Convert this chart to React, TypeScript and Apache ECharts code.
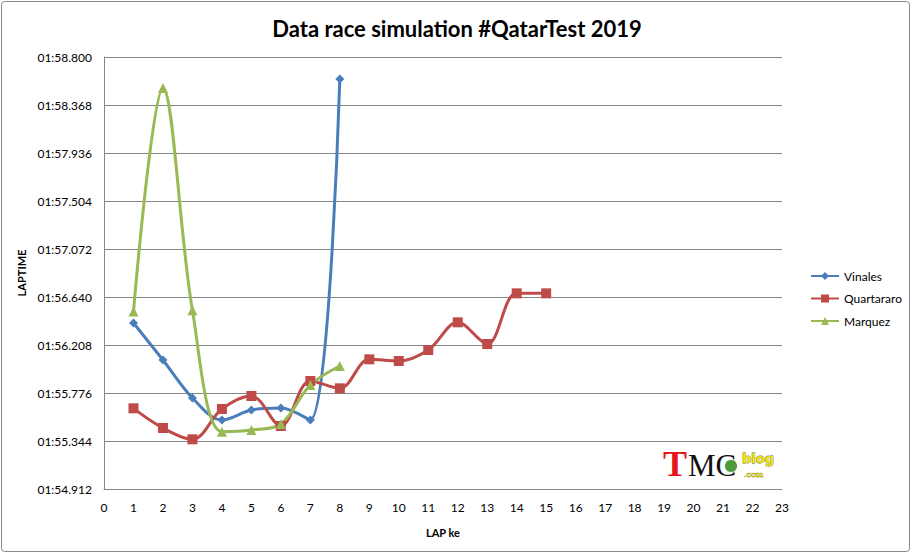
import React, { useEffect, useRef } from "react";
import * as echarts from "echarts";

const laps = [1, 2, 3, 4, 5, 6, 7, 8, 9, 10, 11, 12, 13, 14, 15];
// lap times in seconds
const vinales = [116.406, 116.073, 115.731, 115.533, 115.623, 115.641, 115.533, 118.602];
const quartararo = [115.638, 115.461, 115.359, 115.632, 115.749, 115.479, 115.884, 115.818, 116.079, 116.064, 116.163, 116.412, 116.217, 116.673, 116.673];
const marquez = [116.51, 118.521, 116.52, 115.428, 115.443, 115.497, 115.848, 116.019];
const yMinMs = 114912;
const yMaxMs = 118800;
const yStepMs = 432;

const toPairs = (vals: number[]) => vals.map((v, i) => [laps[i], Math.round(v * 1000)]);

const fmt = (ms: number) => {
  const m = Math.floor(ms / 60000);
  const s = (ms - m * 60000) / 1000;
  const ss = s.toFixed(3).padStart(6, "0");
  return String(m).padStart(2, "0") + ":" + ss;
};

const FONT = "Lato, 'Noto Sans', sans-serif";

export default function App() {
  const ref = useRef<HTMLDivElement>(null);
  useEffect(() => {
    const chart = echarts.init(ref.current!, null, { renderer: "svg" });
    const mk = (name: string, vals: number[], color: string, symbol: string, size: number) => ({
      name,
      type: "line",
      data: toPairs(vals),
      smooth: 0.35,
      symbol,
      symbolSize: size,
      lineStyle: { color, width: 3 },
      itemStyle: { color },
      emphasis: { disabled: true },
    });
    chart.setOption({
      animation: false,
      backgroundColor: "#ffffff",
      textStyle: { fontFamily: FONT },
      title: {
        text: "Data race simulation #QatarTest 2019",
        left: "center",
        top: 12,
        textStyle: { fontFamily: FONT, fontSize: 22, fontWeight: "bold", color: "#000" },
      },
      grid: { left: 104, right: 132, top: 57, bottom: 64, containLabel: false, outerBoundsMode: "none" },
      legend: {
        orient: "vertical",
        left: 805,
        top: 265,
        itemWidth: 28,
        itemHeight: 10,
        itemGap: 10.5,
        textStyle: { fontFamily: FONT, fontSize: 12, color: "#000" },
        data: ["Vinales", "Quartararo", "Marquez"],
      },
      xAxis: {
        type: "value",
        min: 0,
        max: 23,
        interval: 1,
        name: "LAP ke",
        nameLocation: "middle",
        nameGap: 38,
        nameTextStyle: { fontFamily: FONT, fontSize: 11, fontWeight: "bold", color: "#000" },
        axisLine: { show: true, lineStyle: { color: "#868686", width: 1 } },
        axisTick: { show: false },
        splitLine: { show: false },
        axisLabel: { fontFamily: FONT, fontSize: 12, color: "#000", margin: 12 },
      },
      yAxis: {
        type: "value",
        min: yMinMs,
        max: yMaxMs,
        interval: yStepMs,
        name: "LAPTIME",
        nameLocation: "middle",
        nameGap: 77,
        nameTextStyle: { fontFamily: FONT, fontSize: 11, fontWeight: "bold", color: "#000" },
        axisLine: { show: true, lineStyle: { color: "#868686", width: 1 } },
        axisTick: { show: false },
        splitLine: { show: true, lineStyle: { color: "#868686", width: 1 } },
        axisLabel: { fontFamily: FONT, fontSize: 12, color: "#000", margin: 12, formatter: (v: number) => fmt(v) },
      },
      series: [
        mk("Vinales", vinales, "#4A7EBB", "diamond", 9),
        mk("Quartararo", quartararo, "#BE4B48", "rect", 10),
        mk("Marquez", marquez, "#98B954", "triangle", 10),
      ],
      graphic: [
        {
          type: "rect",
          shape: { x: 1.5, y: 1.5, width: 908, height: 550, r: 3 },
          style: { fill: "none", stroke: "#888888", lineWidth: 1 },
          silent: true,
        },
        {
          type: "text",
          x: 663,
          y: 482,
          style: { text: "T", fill: "#E8151B", font: "bold 36px 'Liberation Serif', serif", textVerticalAlign: "bottom" },
          silent: true,
        },
        {
          type: "text",
          x: 688,
          y: 481,
          style: { text: "MC", fill: "#111111", font: "31px 'Liberation Serif', serif", textVerticalAlign: "bottom" },
          silent: true,
        },
        {
          type: "circle",
          shape: { cx: 731, cy: 466, r: 6.5 },
          style: { fill: "#4E9A3A", stroke: "#ffffff", lineWidth: 1 },
          silent: true,
        },
        {
          type: "text",
          x: 742,
          y: 452,
          style: { text: "blog", fill: "#F2E51A", stroke: "#6B6B00", lineWidth: 0.8, font: "bold 13px 'DejaVu Sans', sans-serif" },
          silent: true,
        },
        {
          type: "text",
          x: 744,
          y: 470,
          style: { text: ".com", fill: "#F2E51A", stroke: "#6B6B00", lineWidth: 0.5, font: "8px 'DejaVu Serif', serif" },
          silent: true,
        },
      ],
    });
    return () => chart.dispose();
  }, []);
  return <div ref={ref} style={{ position: "absolute", left: 0, top: 0, width: 914, height: 553 }} />;
}
